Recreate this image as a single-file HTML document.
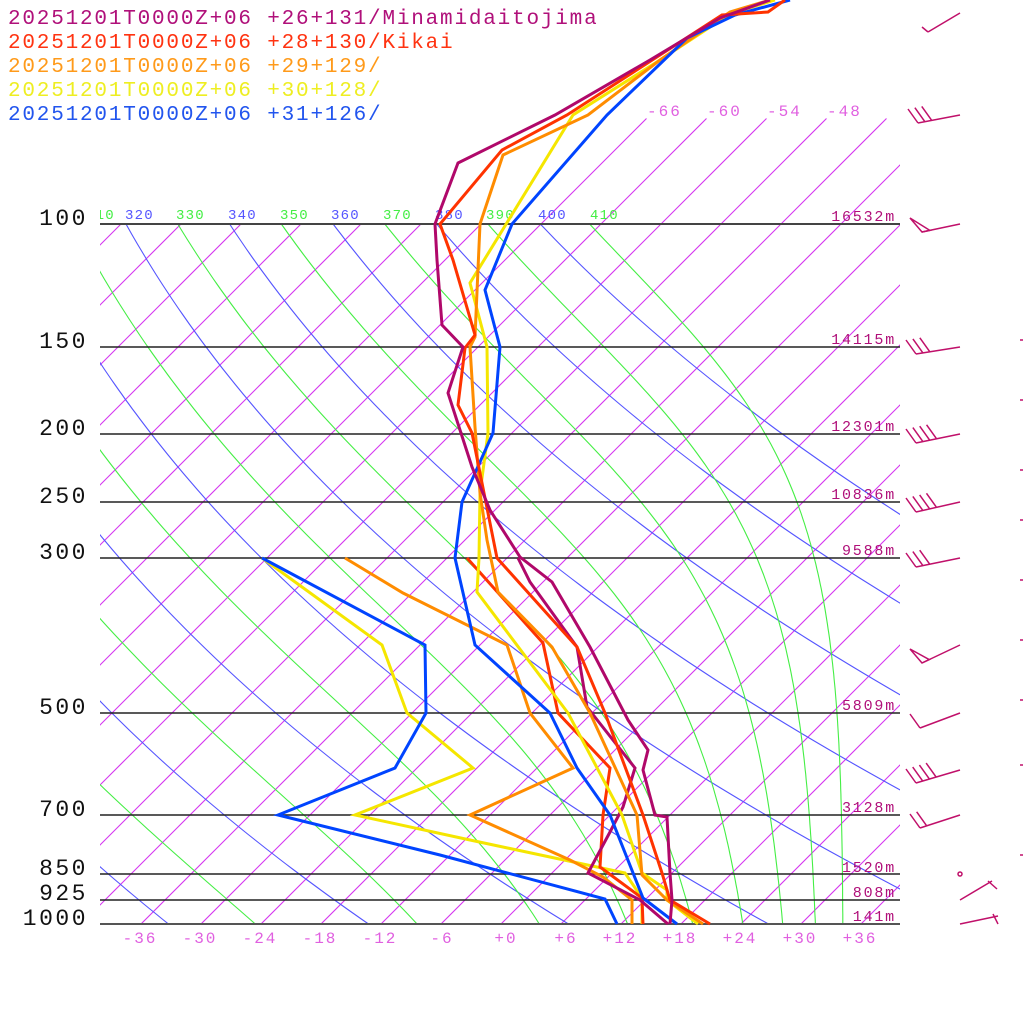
<!DOCTYPE html>
<html><head><meta charset="utf-8">
<style>
html,body{margin:0;padding:0;background:#fff;}
svg{display:block;}
text{font-family:"Liberation Mono","DejaVu Sans Mono",monospace;}
</style></head>
<body>
<svg id="s" width="1024" height="1024" viewBox="0 0 1024 1024" xmlns="http://www.w3.org/2000/svg">
<defs>
<clipPath id="cp"><rect x="100" y="224" width="800" height="700"/></clipPath>
<clipPath id="cpi"><rect x="100" y="0" width="800" height="924"/></clipPath>
<clipPath id="cl"><rect x="100" y="190" width="800" height="40"/></clipPath>
</defs>
<g id="grid"></g>
<g stroke="#222" stroke-width="1.5">
<line x1="100" y1="224" x2="900" y2="224" stroke="#444" stroke-width="2"/>
<line x1="100" y1="347" x2="900" y2="347"/>
<line x1="100" y1="434" x2="900" y2="434"/>
<line x1="100" y1="502" x2="900" y2="502"/>
<line x1="100" y1="558" x2="900" y2="558"/>
<line x1="100" y1="713" x2="900" y2="713"/>
<line x1="100" y1="815" x2="900" y2="815"/>
<line x1="100" y1="874" x2="900" y2="874"/>
<line x1="100" y1="900" x2="900" y2="900"/>
<line x1="100" y1="924" x2="900" y2="924" stroke="#555" stroke-width="2"/>
</g>
<g font-size="23" fill="#111" text-anchor="end" letter-spacing="2.5">
<text x="88" y="225">100</text><text x="88" y="348">150</text><text x="88" y="435">200</text>
<text x="88" y="503">250</text><text x="88" y="559">300</text><text x="88" y="714">500</text>
<text x="88" y="816">700</text><text x="88" y="875">850</text><text x="88" y="900">925</text>
<text x="88" y="925">1000</text>
</g>
<g font-size="16" fill="#e060e0" text-anchor="middle" letter-spacing="2">
<text x="140" y="943">-36</text><text x="200" y="943">-30</text><text x="260" y="943">-24</text>
<text x="320" y="943">-18</text><text x="380" y="943">-12</text><text x="442" y="943">-6</text>
<text x="506" y="943">+0</text><text x="566" y="943">+6</text><text x="620" y="943">+12</text>
<text x="680" y="943">+18</text><text x="740" y="943">+24</text><text x="800" y="943">+30</text>
<text x="860" y="943">+36</text>
</g>
<g font-size="16" fill="#e060e0" letter-spacing="2">
<text x="647" y="116">-66</text><text x="707" y="116">-60</text><text x="767" y="116">-54</text><text x="827" y="116">-48</text>
</g>
<g font-size="14" letter-spacing="1.2" clip-path="url(#cl)">
<text x="86" y="219" fill="#44ee44">310</text>
<text x="125" y="219" fill="#5555ff">320</text>
<text x="176" y="219" fill="#44ee44">330</text>
<text x="228" y="219" fill="#5555ff">340</text>
<text x="280" y="219" fill="#44ee44">350</text>
<text x="331" y="219" fill="#5555ff">360</text>
<text x="383" y="219" fill="#44ee44">370</text>
<text x="435" y="219" fill="#5555ff">380</text>
<text x="486" y="219" fill="#44ee44">390</text>
<text x="538" y="219" fill="#5555ff">400</text>
<text x="590" y="219" fill="#44ee44">410</text>
</g>
<g font-size="15" fill="#b0107a" text-anchor="end" letter-spacing="1.8">
<text x="896" y="221">16532m</text><text x="896" y="344">14115m</text><text x="896" y="431">12301m</text>
<text x="896" y="499">10836m</text><text x="896" y="555">9588m</text><text x="896" y="710">5809m</text>
<text x="896" y="812">3128m</text><text x="896" y="872">1520m</text><text x="896" y="897">808m</text>
<text x="896" y="921">141m</text>
</g>
<g fill="none" stroke-width="3" stroke-linejoin="miter">
<polyline stroke="#f5e600" points="262,558 382,645 407,713 473,768 355,815 470,840 625,873 642,898 642,924"/>
<polyline stroke="#ff8c00" points="345,558 403,593 507,645 530,713 573,768 470,815 570,860 603,877 632,900 632,924"/>
<polyline stroke="#0044ff" points="262,558 425,645 426,713 395,768 278,815 440,855 605,899 617,924"/>
<polyline stroke="#ff3300" points="467,558 543,643 558,713 610,768 603,815 600,867 642,898 643,924"/>
<polyline stroke="#b0086a" points="518,558 530,582 577,647 587,707 635,768 623,807 610,832 588,873 640,900 668,924"/>
<polyline stroke="#f5e600" points="775,0 730,14 660,60 573,115 470,283 487,347 488,433 480,493 479,558 477,592 568,713 622,815 642,873 667,890 667,900 698,924"/>
<polyline stroke="#ff8c00" points="770,0 730,12 660,60 588,115 503,155 480,224 475,337 470,347 475,427 480,493 487,540 498,592 552,647 590,713 637,815 642,875 667,900 703,924"/>
<polyline stroke="#0044ff" points="790,0 735,15 687,38 607,115 512,224 485,290 500,347 493,433 462,502 455,558 475,645 550,713 577,768 610,815 643,898 677,924"/>
<polyline stroke="#ff3300" points="785,0 768,12 722,15 660,55 567,115 502,150 440,224 453,260 475,335 465,348 458,405 472,433 497,558 577,647 605,713 643,815 662,873 670,900 710,924"/>
<polyline stroke="#b0086a" points="770,0 720,18 650,60 555,115 458,163 435,224 437,260 442,325 463,347 448,393 472,467 490,510 520,557 552,582 590,647 628,720 648,750 643,770 655,815 667,817 670,873 672,900 670,924"/>
</g>
<g font-size="21" letter-spacing="1.8">
<text x="8" y="24" fill="#b0107a">20251201T0000Z+06 +26+131/Minamidaitojima</text>
<text x="8" y="48" fill="#ff3311">20251201T0000Z+06 +28+130/Kikai</text>
<text x="8" y="72" fill="#ff9a1a">20251201T0000Z+06 +29+129/</text>
<text x="8" y="96" fill="#eeee22">20251201T0000Z+06 +30+128/</text>
<text x="8" y="120" fill="#2255ee">20251201T0000Z+06 +31+126/</text>
</g>
<g id="barbs" stroke="#c0106a" stroke-width="1.5" fill="none"></g>
</svg>
<script>
(function(){
var NS="http://www.w3.org/2000/svg";
function X(Tc,y){return 500+10*Tc+(924-y);}
function P(y){return 1000*Math.exp(-(924-y)/304);}
var g=document.getElementById('grid');
function path(d,col,w,clip){var e=document.createElementNS(NS,'path');e.setAttribute('d',d);e.setAttribute('stroke',col);e.setAttribute('stroke-width',w);e.setAttribute('fill','none');if(clip)e.setAttribute('clip-path',clip);g.appendChild(e);}
// isotherms
for(var T=-120;T<=60;T+=6){
  var ytop=(T>=-66)?118:224;
  var x1=X(T,924),x2=X(T,ytop);
  path('M'+(x1+0.5)+',924.5L'+(x2+0.5)+','+(ytop+0.5),'#d535f0',1.1,'url(#cpi)');
}
// dry adiabats
for(var th=200;th<=400;th+=20){
  var d='';
  for(var y=224;y<=924;y+=5){var p=P(y);var Tk=th*Math.pow(p/1000,0.2857);d+=(d?'L':'M')+X(Tk-273.15,y).toFixed(1)+','+y;}
  path(d,'#5555ff',1.1,'url(#cp)');
}
// moist adiabats
function es(Tc){return 6.112*Math.exp(17.67*Tc/(Tc+243.5));}
function thetae(Tk,p){var e=es(Tk-273.15);var rs=0.622*e/Math.max(p-e,1);return Tk*Math.pow(1000/p,0.2857)*Math.exp(2.5e6*rs/(1005*Tk));}
for(var te=250;te<=410;te+=20){
  var d='';
  for(var y=224;y<=924;y+=5){var p=P(y);var lo=150,hi=340;for(var i=0;i<40;i++){var m=(lo+hi)/2;if(thetae(m,p)>te)hi=m;else lo=m;}
    d+=(d?'L':'M')+X(lo-273.15,y).toFixed(1)+','+y;}
  path(d,'#44ee44',1.1,'url(#cp)');
}
// barbs
var b=document.getElementById('barbs');
function ln(a,c,e,f){var l=document.createElementNS(NS,'line');l.setAttribute('x1',a);l.setAttribute('y1',c);l.setAttribute('x2',e);l.setAttribute('y2',f);b.appendChild(l);}
function barb(yt,tx,ty,n,pen){
  ln(960,yt,tx,ty);
  var dx=(960-tx),dy=(yt-ty),L=Math.sqrt(dx*dx+dy*dy);dx/=L;dy/=L;
  var k=0;
  if(pen){var ax=tx,ay=ty,bx=tx+dx*8,by=ty+dy*8;var pg=document.createElementNS(NS,'polygon');pg.setAttribute('points',ax+','+ay+' '+(ax-12)+','+(ay-14)+' '+bx+','+by);b.appendChild(pg);k=1.4;}
  for(var i=0;i<n;i++){var s=(k+i)*7;var px=tx+dx*s,py=ty+dy*s;ln(px,py,px-10,py-14);}
}
barb(13,928,32,0,false);ln(928,32,922,27);
barb(115,918,123,3,false);
barb(224,922,232,0,true);
barb(347,916,354,3,false);
barb(434,916,443,4,false);
barb(502,916,512,4,false);
barb(558,916,567,3,false);
barb(645,922,663,0,true);
barb(713,920,728,1,false);
barb(770,916,783,4,false);
barb(815,920,828,2,false);
var c=document.createElementNS(NS,'circle');c.setAttribute('cx',960);c.setAttribute('cy',874);c.setAttribute('r',2);b.appendChild(c);
ln(960,900,992,881);ln(988,881,997,889);
ln(960,924,998,916);ln(993,914,998,924);
[340,400,470,520,580,640,700,765,855].forEach(function(y){ln(1020,y,1023,y);});
})();
</script>
</body></html>
